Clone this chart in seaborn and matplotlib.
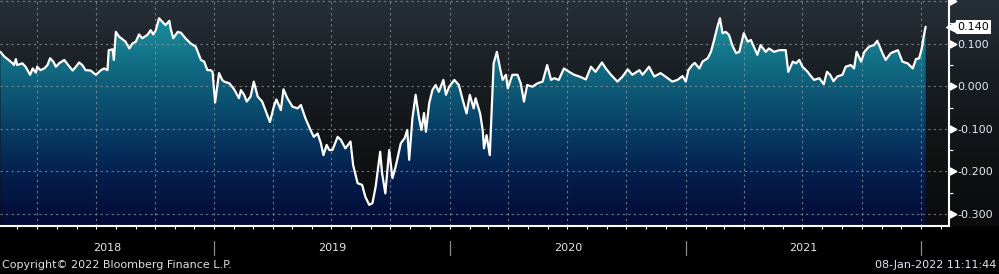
import numpy as np
import pandas as pd
import matplotlib
matplotlib.use("Agg")
import matplotlib.pyplot as plt
import seaborn as sns
import matplotlib.dates as mdates
from matplotlib.path import Path
from matplotlib.ticker import FixedLocator, MultipleLocator
from matplotlib.colors import LinearSegmentedColormap
from matplotlib.transforms import blended_transform_factory

# ---------------- data ----------------
start_date = "2018-01-01"
days_since_start = [
    33, 39, 44, 52, 54, 57, 59, 67, 72, 79,
    83, 88, 90, 95, 101, 106, 110, 115, 119, 124,
    132, 137, 145, 150, 155, 160, 165, 173, 181, 189,
    194, 199, 201, 207, 209, 212, 217, 222, 227, 233,
    238, 243, 248, 253, 261, 266, 270, 274, 279, 284,
    289, 295, 297, 301, 308, 313, 320, 328, 336, 341,
    344, 349, 354, 359, 362, 366, 372, 377, 380, 388,
    395, 403, 406, 411, 415, 421, 426, 432, 439, 446,
    451, 457, 461, 468, 472, 478, 486, 494, 499, 506,
    514, 519, 525, 530, 534, 539, 543, 548, 556, 561,
    568, 576, 580, 587, 594, 599, 605, 610, 615, 622,
    625, 630, 636, 641, 646, 654, 660, 664, 667, 672,
    677, 682, 686, 690, 693, 698, 703, 708, 713, 720,
    724, 729, 737, 744, 750, 756, 761, 767, 770, 777,
    781, 783, 787, 792, 795, 798, 803, 808, 812, 817,
    820, 827, 835, 840, 845, 850, 858, 866, 874, 881,
    887, 892, 899, 907, 915, 923, 931, 941, 949, 956,
    966, 972, 980, 990, 998, 1006, 1013, 1024, 1029, 1039,
    1047, 1057, 1068, 1075, 1083, 1091, 1096, 1100, 1106, 1110,
    1117, 1122, 1130, 1135, 1140, 1145, 1149, 1153, 1158, 1163,
    1168, 1174, 1179, 1186, 1192, 1197, 1207, 1212, 1220, 1225,
    1233, 1241, 1249, 1251, 1255, 1262, 1267, 1272, 1277, 1285,
    1290, 1295, 1303, 1310, 1315, 1320, 1325, 1331, 1339, 1344,
    1352, 1357, 1361, 1368, 1373, 1380, 1388, 1393, 1401, 1406,
    1414, 1425, 1432, 1440, 1448, 1453, 1458, 1462, 1465, 1468,
]
values = [
    0.081, 0.070, 0.064, 0.054, 0.050, 0.064, 0.050, 0.054, 0.046, 0.027,
    0.042, 0.032, 0.046, 0.038, 0.042, 0.050, 0.066, 0.058, 0.046, 0.054,
    0.062, 0.052, 0.037, 0.046, 0.056, 0.050, 0.038, 0.037, 0.027, 0.038,
    0.042, 0.038, 0.085, 0.087, 0.062, 0.128, 0.117, 0.111, 0.105, 0.089,
    0.101, 0.105, 0.122, 0.113, 0.121, 0.132, 0.122, 0.132, 0.160, 0.152,
    0.144, 0.154, 0.136, 0.113, 0.128, 0.126, 0.113, 0.101, 0.093, 0.074,
    0.062, 0.058, 0.038, 0.038, 0.034, -0.038, 0.031, 0.015, 0.011, 0.007,
    -0.006, -0.028, -0.009, -0.020, -0.036, -0.024, 0.011, -0.024, -0.036, -0.064,
    -0.084, -0.048, -0.031, -0.056, -0.007, -0.028, -0.048, -0.052, -0.044, -0.075,
    -0.103, -0.119, -0.111, -0.134, -0.162, -0.138, -0.150, -0.150, -0.119, -0.126,
    -0.146, -0.130, -0.185, -0.228, -0.232, -0.260, -0.279, -0.275, -0.236, -0.154,
    -0.205, -0.252, -0.150, -0.216, -0.189, -0.134, -0.122, -0.103, -0.173, -0.075,
    -0.020, -0.072, -0.103, -0.063, -0.107, -0.040, -0.009, 0.003, -0.013, 0.015,
    -0.020, -0.001, 0.015, 0.003, -0.032, -0.064, -0.020, -0.052, -0.028, -0.064,
    -0.103, -0.146, -0.115, -0.162, -0.052, 0.054, 0.081, 0.042, 0.015, 0.027,
    -0.005, 0.027, 0.027, 0.007, -0.036, 0.003, -0.001, 0.007, 0.011, 0.050,
    0.015, 0.019, 0.015, 0.042, 0.034, 0.027, 0.023, 0.016, 0.046, 0.034,
    0.056, 0.042, 0.027, 0.011, 0.023, 0.040, 0.027, 0.038, 0.027, 0.046,
    0.023, 0.031, 0.019, 0.011, 0.015, 0.024, 0.011, 0.038, 0.050, 0.055,
    0.042, 0.058, 0.066, 0.081, 0.109, 0.140, 0.160, 0.125, 0.128, 0.121,
    0.097, 0.078, 0.081, 0.125, 0.105, 0.109, 0.074, 0.097, 0.081, 0.089,
    0.081, 0.085, 0.085, 0.085, 0.034, 0.058, 0.054, 0.062, 0.046, 0.034,
    0.024, 0.015, 0.019, 0.005, 0.034, 0.027, 0.012, 0.023, 0.027, 0.046,
    0.050, 0.042, 0.081, 0.058, 0.081, 0.093, 0.097, 0.107, 0.078, 0.062,
    0.078, 0.085, 0.058, 0.054, 0.042, 0.064, 0.066, 0.089, 0.117, 0.140,
]
ytick_values = [0.2, 0.1, 0.0, -0.1, -0.2, -0.3]
ytick_labels = ["", "0.100", "0.000", "-0.100", "-0.200", "-0.300"]
year_labels = ["2018", "2019", "2020", "2021"]
last_value_label = "0.140"
x_start = "2018-02-02 08:00"
x_end = "2022-02-12 19:00"
y_min, y_max = -0.3287, 0.203
copyright_text = "Copyright\u00a9 2022 Bloomberg Finance L.P."
timestamp_text = "08-Jan-2022 11:11:44"

# ---------------- style ----------------
sns.set_theme(style="dark")
plt.rcParams["font.family"] = ["DejaVu Sans"]
plt.rcParams["font.size"] = 8

dates = pd.Timestamp(start_date) + pd.to_timedelta(days_since_start, unit="D")
df = pd.DataFrame({"date": dates, "value": values})

W, H = 999, 274
fig = plt.figure(figsize=(W / 100, H / 100), dpi=100, facecolor="black")

ax_bottom_px = 226
ax_right_px = 948.7
ax_rect = [0, 1 - ax_bottom_px / H, ax_right_px / W, ax_bottom_px / H]

# background gradient (plot area + right margin)
bg = fig.add_axes([0, ax_rect[1], 1, ax_rect[3]], zorder=0)
bg_cmap = LinearSegmentedColormap.from_list(
    "bg", [(0.0, "#0b0b0c"), (0.3, "#101214"), (0.62, "#181c20"), (1.0, "#262f38")])
grad = np.linspace(0, 1, 256).reshape(-1, 1)
bg.imshow(grad, aspect="auto", cmap=bg_cmap, origin="lower", extent=[0, 1, 0, 1])
bg.set_axis_off()

ax = fig.add_axes(ax_rect, zorder=1)
ax.set_facecolor("none")

xmin = mdates.date2num(pd.Timestamp(x_start))
xmax = mdates.date2num(pd.Timestamp(x_end))
xnum = mdates.date2num(df["date"])

# gradient fill under line
fill_cmap = LinearSegmentedColormap.from_list(
    "fill", [(0.0, "#030a36"), (0.24, "#05204f"), (0.43, "#083e66"),
             (0.62, "#0e5c78"), (0.81, "#167e90"), (1.0, "#1f98a5")])
poly = ax.fill_between(xnum, df["value"], y_min, color="none", lw=0)
clip_path = poly.get_paths()[0]
im = ax.imshow(grad, aspect="auto", cmap=fill_cmap, origin="lower",
               extent=[xmin, xmax, y_min, y_max], zorder=1, interpolation="bilinear")
im.set_clip_path(clip_path, transform=ax.transData)

# line
sns.lineplot(x=xnum, y=df["value"], ax=ax, color="white", linewidth=1.6,
             zorder=4, sort=False, estimator=None)

ax.set_xlim(xmin, xmax)
ax.set_ylim(y_min, y_max)
ax.set_xlabel("")
ax.set_ylabel("")

# grid
ax.xaxis.set_major_locator(mdates.MonthLocator(bymonth=[1, 4, 7, 10]))
ax.xaxis.set_minor_locator(mdates.MonthLocator())
ax.xaxis.set_major_formatter(plt.NullFormatter())
ax.yaxis.set_major_locator(FixedLocator(ytick_values))
ax.set_yticklabels(ytick_labels)
ax.yaxis.set_minor_locator(MultipleLocator(0.05))
ax.yaxis.tick_right()
ax.grid(True, which="major", color="#8a9399", linestyle=(0, (2, 3)),
        linewidth=0.8, alpha=0.8, zorder=2)
ax.set_axisbelow(False)
for gl in ax.get_xgridlines() + ax.get_ygridlines():
    gl.set_zorder(2)

for s in ["left", "top"]:
    ax.spines[s].set_visible(False)
for s in ["right", "bottom"]:
    ax.spines[s].set_color("white")
    ax.spines[s].set_linewidth(1.5)
    ax.spines[s].set_zorder(5)

ax.tick_params(axis="x", which="both", direction="out", length=2.5, width=0.8,
               color="white", bottom=True, labelbottom=False)
ax.tick_params(axis="y", which="major", length=0, pad=6.5, labelcolor="#e4ebf2",
               labelsize=8, right=True, left=False)
ax.tick_params(axis="y", which="minor", direction="out", length=3, width=0.8,
               color="white", right=True, left=False)

# triangle tick markers on the right axis
tri = Path([(0, -0.55), (0, 0.55), (1.0, 0), (0, -0.55)],
           [Path.MOVETO, Path.LINETO, Path.LINETO, Path.CLOSEPOLY])
btrans = blended_transform_factory(ax.transAxes, ax.transData)
ax.plot(np.ones(len(ytick_values)) + 0.0012, ytick_values, transform=btrans,
        marker=tri, markersize=9, color="white", ls="none", clip_on=False, zorder=6)

# last value box
last_v = df["value"].iloc[-1]
ax.text(1.0 + 9 / (ax_right_px), last_v, last_value_label, transform=btrans,
        ha="left", va="center", color="black", fontsize=8, zorder=7, clip_on=False,
        bbox=dict(boxstyle="square,pad=0.18", facecolor="white", edgecolor="none"))
ax.plot([1.0 + 2 / ax_right_px], [last_v], transform=btrans, marker="<",
        markersize=7, color="white", ls="none", clip_on=False, zorder=7)

# year separators and labels below the axis
sep_trans = blended_transform_factory(ax.transData, ax.transAxes)
for yr in range(2019, 2023):
    xs = mdates.date2num(pd.Timestamp(f"{yr}-01-01"))
    ax.plot([xs, xs], [-15 / ax_bottom_px, -29 / ax_bottom_px], transform=sep_trans,
            color="#8c8c8c", lw=0.9, clip_on=False)
for lbl in year_labels:
    yr = int(lbl)
    a = max(xmin, mdates.date2num(pd.Timestamp(f"{yr}-01-01")))
    b = min(xmax, mdates.date2num(pd.Timestamp(f"{yr + 1}-01-01")))
    ax.text((a + b) / 2, -22 / ax_bottom_px, lbl, transform=sep_trans, ha="center",
            va="center", color="#e6e6e6", fontsize=8, clip_on=False)

fig.text(0.002, 1 - 265 / H, copyright_text, ha="left", va="center",
         color="#e0e0e0", fontsize=8)
fig.text(0.997, 1 - 265 / H, timestamp_text, ha="right", va="center",
         color="#dfe6ee", fontsize=8)

fig.savefig("out.png", dpi=100, facecolor="black")
